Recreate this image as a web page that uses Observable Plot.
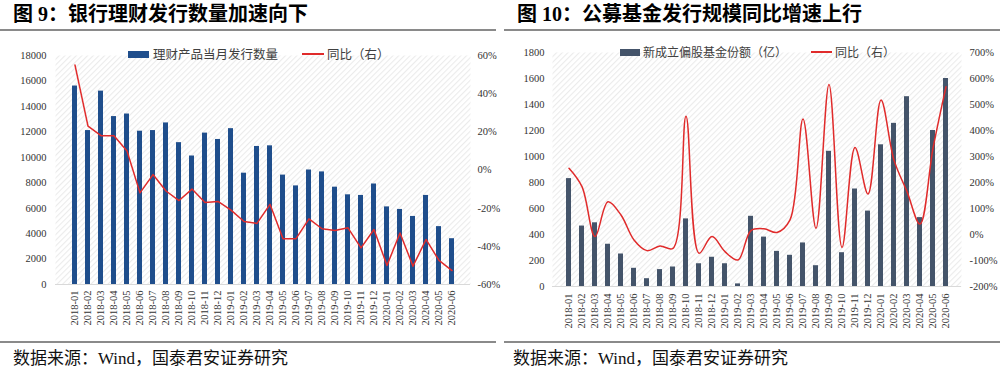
<!DOCTYPE html>
<html><head><meta charset="utf-8">
<script src="https://cdn.jsdelivr.net/npm/d3@7"></script>
<script src="https://cdn.jsdelivr.net/npm/@observablehq/plot@0.6"></script>
<style>
body{margin:0;background:#fff;width:1000px;height:371px;overflow:hidden;position:relative;font-family:"Noto Sans CJK SC",sans-serif;}
.panel{position:absolute;top:0;width:500px;height:371px;}
.title{position:absolute;top:4px;font-size:20px;line-height:20px;font-weight:bold;white-space:nowrap;color:#000;font-family:"Liberation Serif","Noto Sans CJK SC",serif;}
.rule{position:absolute;height:2px;background:#8a8a8a;}
.caption{position:absolute;top:350px;font-size:17px;line-height:17px;white-space:nowrap;color:#111;font-family:"Liberation Serif","Noto Sans CJK SC",serif;}
.chart{position:absolute;left:0;top:0;}
.leg{position:absolute;font-size:12.5px;line-height:14px;color:#404040;white-space:nowrap;}
.sw{position:absolute;}
</style>
</head><body>
<div class="panel" id="p1" style="left:0">
  <div class="title" style="left:13px">图 9：银行理财发行数量加速向下</div>
  <div class="rule" style="left:0;width:496px;top:29px"></div>
  <div id="c1" class="chart"></div>
  <div class="sw" style="left:128px;top:51px;width:21px;height:7px;background:#1f4e8c"></div>
  <div class="leg" style="left:153px;top:47px">理财产品当月发行数量</div>
  <div class="sw" style="left:302px;top:53px;width:22px;height:2px;background:#e02b2b"></div>
  <div class="leg" style="left:327px;top:47px">同比（右）</div>
  <div class="rule" style="left:0;width:496px;top:341px"></div>
  <div class="caption" style="left:13px">数据来源：Wind，国泰君安证券研究</div>
</div>
<div class="panel" id="p2" style="left:500px">
  <div class="title" style="left:17px">图 10：公募基金发行规模同比增速上行</div>
  <div class="rule" style="left:4px;width:496px;top:29px"></div>
  <div id="c2" class="chart"></div>
  <div class="sw" style="left:120px;top:49px;width:20px;height:7px;background:#44546a"></div>
  <div class="leg" style="left:143px;top:45px;font-size:12px">新成立偏股基金份额（亿）</div>
  <div class="sw" style="left:311px;top:51px;width:21px;height:2px;background:#e02b2b"></div>
  <div class="leg" style="left:335px;top:45px;font-size:12px">同比（右）</div>
  <div class="rule" style="left:4px;width:496px;top:341px"></div>
  <div class="caption" style="left:13px">数据来源：Wind，国泰君安证券研究</div>
</div>
<script>
const months = ["2018-01","2018-02","2018-03","2018-04","2018-05","2018-06","2018-07","2018-08","2018-09","2018-10","2018-11","2018-12",
  "2019-01","2019-02","2019-03","2019-04","2019-05","2019-06","2019-07","2019-08","2019-09","2019-10","2019-11","2019-12",
  "2020-01","2020-02","2020-03","2020-04","2020-05","2020-06"];
// Chart 9: bank wealth-management products issued per month, and YoY %
const bankCount = [15600,12100,15200,13200,13400,12050,12100,12700,11150,10100,11900,11400,
  12250,8750,10850,10900,8600,7750,9000,8850,7650,7050,7000,7900,
  6100,5900,5350,7000,4550,3600];
const bankYoY = [55,23,18,18,10,-12,-2.4,-11,-16,-10,-17,-16.5,
  -21,-27,-28,-18,-36,-36,-25.6,-30.8,-31.7,-30.3,-40.8,-31.2,
  -50,-33,-50.4,-36.4,-47.4,-52.7];
const leftTicks9 = [0,2000,4000,6000,8000,10000,12000,14000,16000,18000];
const rightTicks9 = [-60,-40,-20,0,20,40,60];
// Chart 10: new equity fund shares (100m), and YoY %
const fundShares = [830,465,490,325,250,140,60,130,150,520,175,225,
  175,20,540,380,270,240,335,160,1040,260,750,580,
  1090,1255,1460,530,1200,1600];
const fundYoY = [255,184,-8,126,75,-21,-62,-44,-53,455,-72,-8,
  -66,-98,15,22,8,56,444,24,577,-50,335,156,
  517,286,165,40,331,568];
const leftTicks10 = [0,200,400,600,800,1000,1200,1400,1600,1800];
const rightTicks10 = [-200,-100,0,100,200,300,400,500,600,700];

function addHatch(svg, id){
  const defs = d3.select(svg).insert("defs", ":first-child");
  const p = defs.append("pattern").attr("id", id).attr("patternUnits","userSpaceOnUse")
    .attr("width",4).attr("height",4).attr("patternTransform","rotate(45)");
  p.append("rect").attr("width",4).attr("height",4).attr("fill","#ffffff");
  p.append("line").attr("x1",0.5).attr("y1",0).attr("x2",0.5).attr("y2",4)
    .attr("stroke","#ebebeb").attr("stroke-width",1.2);
}

const style = {fontFamily:"Liberation Serif, serif", fontSize:"10.5px", color:"#333", background:"transparent", overflow:"visible"};

// ---- chart 9
const d9 = months.map((m,i)=>({m, v: bankCount[i], r: bankYoY[i]}));
const y9max = leftTicks9[leftTicks9.length-1];
const r9min = rightTicks9[0], r9max = rightTicks9[rightTicks9.length-1];
const map9 = v => (v - r9min)/(r9max - r9min)*y9max;
const svg9 = Plot.plot({
  width:500, height:340, marginLeft:55, marginRight:30, marginTop:55, marginBottom:56,
  x:{type:"band", domain:months, paddingInner:0.62, paddingOuter:0.31, label:null},
  y:{domain:[0,y9max], label:null},
  style,
  marks:[
    Plot.frame({fill:"url(#hatch9)", stroke:null}),
    Plot.ruleY([0], {stroke:"#d9d9d9"}),
    Plot.barY(d9, {x:"m", y:"v", fill:"#1f4e8c"}),
    Plot.lineY(d9, {x:"m", y:d=>map9(d.r), stroke:"#e02b2b", strokeWidth:1.5}),
    Plot.axisY({ticks:leftTicks9, tickFormat:d=>String(d), tickSize:0, tickPadding:9, label:null}),
    Plot.text(rightTicks9, {y:d=>map9(d), text:d=>d+"%", frameAnchor:"right", dx:7, textAnchor:"start", fill:"#333"}),
    Plot.axisX({tickRotate:-90, tickSize:0, tickPadding:6, label:null})
  ]
});
addHatch(svg9, "hatch9");
document.getElementById("c1").appendChild(svg9);

// ---- chart 10
const d10 = months.map((m,i)=>({m, v: fundShares[i], r: fundYoY[i]}));
const y10max = leftTicks10[leftTicks10.length-1];
const r10min = rightTicks10[0], r10max = rightTicks10[rightTicks10.length-1];
const map10 = v => (v - r10min)/(r10max - r10min)*y10max;
const svg10 = Plot.plot({
  width:500, height:340, marginLeft:52, marginRight:39, marginTop:52, marginBottom:54,
  x:{type:"band", domain:months, paddingInner:0.63, paddingOuter:0.315, label:null},
  y:{domain:[0,y10max], label:null},
  style,
  marks:[
    Plot.frame({fill:"url(#hatch10)", stroke:null}),
    Plot.ruleY([0], {stroke:"#d9d9d9"}),
    Plot.barY(d10, {x:"m", y:"v", fill:"#44546a"}),
    Plot.lineY(d10, {x:"m", y:d=>map10(d.r), stroke:"#e02b2b", strokeWidth:1.5, curve:"catmull-rom"}),
    Plot.axisY({ticks:leftTicks10, tickFormat:d=>String(d), tickSize:0, tickPadding:8, label:null}),
    Plot.text(rightTicks10, {y:d=>map10(d), text:d=>d+"%", frameAnchor:"right", dx:8, textAnchor:"start", fill:"#333"}),
    Plot.axisX({tickRotate:-90, tickSize:0, tickPadding:7, label:null})
  ]
});
addHatch(svg10, "hatch10");
document.getElementById("c2").appendChild(svg10);
</script>
</body></html>
